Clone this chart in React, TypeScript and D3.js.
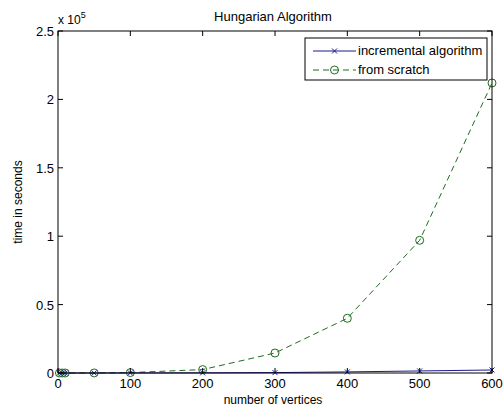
import React from "react";
import * as d3 from "d3";

const vertices = [2, 6, 10, 50, 100, 200, 300, 400, 500, 600];
const incremental = [0, 0, 0, 0, 0.0004, 0.001, 0.003, 0.008, 0.015, 0.022];
const fromScratch = [0, 0, 0, 0.0005, 0.003, 0.025, 0.146, 0.4, 0.97, 2.12];
const xTicks = [0, 100, 200, 300, 400, 500, 600];
const yTicks = [0, 0.5, 1, 1.5, 2, 2.5];
const yTickLabels = ["0", "0.5", "1", "1.5", "2", "2.5"];
const seriesNames = ["incremental algorithm", "from scratch"];

const W = 504, H = 410;
const L = 58, R = 492, T = 31, B = 373;
const font = "'Liberation Sans', Arial, sans-serif";

export default function App() {
  const x = d3.scaleLinear().domain([0, 600]).range([L, R]);
  const y = d3.scaleLinear().domain([0, 2.5]).range([B, T]);
  const line = d3.line<number>().x((_, i) => x(vertices[i])).y((d) => y(d));
  const blue = "#1a1a8c";
  const green = "#1f6b1f";
  const tick = 5;
  const cross = (cx: number, cy: number, k: string) => (
    <path key={k} d={`M${cx - 2.5},${cy - 2.5}L${cx + 2.5},${cy + 2.5}M${cx - 2.5},${cy + 2.5}L${cx + 2.5},${cy - 2.5}`} stroke={blue} strokeWidth={1} />
  );
  return (
    <svg width={W} height={H} style={{ position: "absolute", left: 0, top: 0, background: "#fff" }} fontFamily={font}>
      <rect x={0} y={0} width={W} height={H} fill="#fff" />
      <rect x={L} y={T} width={R - L} height={B - T} fill="#fff" />
      {/* series */}
      <path d={line(fromScratch) || ""} fill="none" stroke={green} strokeWidth={1} strokeDasharray="6,4" />
      {fromScratch.map((d, i) => (
        <circle key={"c" + i} cx={x(vertices[i])} cy={y(d)} r={4} fill="none" stroke={green} strokeWidth={1} />
      ))}
      <path d={line(incremental) || ""} fill="none" stroke={blue} strokeWidth={1} />
      {incremental.map((d, i) => cross(x(vertices[i]), y(d), "x" + i))}
      {/* axes box */}
      <rect x={L} y={T} width={R - L} height={B - T} fill="none" stroke="#000" strokeWidth={1} />
      {xTicks.map((t) => (
        <g key={"xt" + t}>
          <line x1={x(t)} x2={x(t)} y1={B} y2={B - tick} stroke="#000" />
          <line x1={x(t)} x2={x(t)} y1={T} y2={T + tick} stroke="#000" />
          <text x={x(t)} y={B + 15} fontSize={13} textAnchor="middle" fill="#000">{t}</text>
        </g>
      ))}
      {yTicks.map((t, i) => (
        <g key={"yt" + t}>
          <line x1={L} x2={L + tick} y1={y(t)} y2={y(t)} stroke="#000" />
          <line x1={R} x2={R - tick} y1={y(t)} y2={y(t)} stroke="#000" />
          <text x={L - 4} y={y(t) + 5} fontSize={13} textAnchor="end" fill="#000">{yTickLabels[i]}</text>
        </g>
      ))}
      <text x={58} y={24} fontSize={12} fill="#000">x 10<tspan fontSize={9} dy={-6}>5</tspan></text>
      <text x={273} y={21} fontSize={13} textAnchor="middle" fill="#000">Hungarian Algorithm</text>
      <text x={273} y={404} fontSize={12} textAnchor="middle" fill="#000">number of vertices</text>
      <text transform={`translate(22,${(T + B) / 2}) rotate(-90)`} fontSize={12} textAnchor="middle" fill="#000">time in seconds</text>
      {/* legend */}
      <rect x={305} y={38} width={182} height={42} fill="#fff" stroke="#000" strokeWidth={1} />
      <line x1={313} x2={356} y1={51} y2={51} stroke={blue} />
      {cross(334.5, 51, "lx")}
      <text x={358} y={55} fontSize={13} fill="#000">{seriesNames[0]}</text>
      <line x1={313} x2={356} y1={70} y2={70} stroke={green} strokeDasharray="6,4" />
      <circle cx={334.5} cy={70} r={4} fill="none" stroke={green} />
      <text x={358} y={74} fontSize={13} fill="#000">{seriesNames[1]}</text>
    </svg>
  );
}
